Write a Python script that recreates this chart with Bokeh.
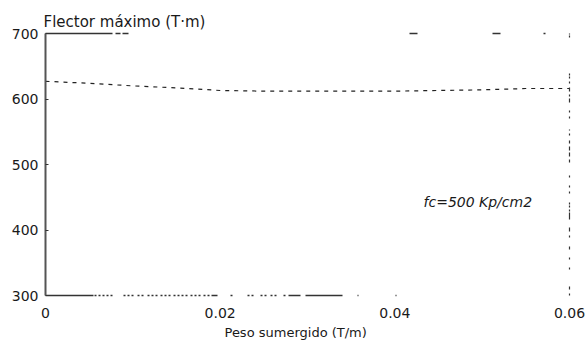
from bokeh.plotting import figure
from bokeh.models import LinearAxis, Label, FixedTicker, Range1d, Title
from bokeh.embed import file_html
from bokeh.resources import INLINE

# data
peso = [0, 0.005, 0.01, 0.015, 0.02, 0.025, 0.03, 0.035, 0.04, 0.045, 0.05, 0.055, 0.06]
flector = [627, 624, 620, 617, 613, 612, 612, 612, 612, 613, 614, 616, 616]
x_ticks = [0, 0.02, 0.04, 0.06]
x_tick_labels = {0: "0", 0.02: "0.02", 0.04: "0.04", 0.06: "0.06"}
y_ticks = [300, 400, 500, 600, 700]

FONT = "DejaVu Sans"
INK = "#1a1a1a"


def dash_from_segments(segs, total=600):
    """Style helper: turn (start, end) pixel runs into a dash pattern string."""
    out = []
    for i, (a, b) in enumerate(segs):
        out.append(b - a)
        nxt = segs[i + 1][0] if i + 1 < len(segs) else total
        out.append(nxt - b)
    return " ".join(str(v) for v in out)


# faded, broken frame lines of the scanned original (pixel runs, styling only)
bottom_runs = [(0, 48), (49, 51), (53, 55), (57, 59), (61, 63), (65, 67),
               (78, 80), (82, 84), (86, 88), (92, 94), (96, 98),
               (102, 104), (106, 108), (110, 112), (115, 117), (119, 121), (123, 125),
               (128, 130), (132, 134), (136, 138), (140, 142),
               (145, 147), (149, 151), (153, 155), (158, 160), (162, 164), (166, 172),
               (185, 187), (202, 204), (206, 208), (215, 217), (219, 221),
               (225, 227), (229, 231), (238, 240), (243, 255), (260, 297),
               (312, 313), (350, 351)]
top_runs = [(0, 67), (70, 75), (77, 83), (364, 372), (447, 455), (498, 500)]
right_runs = [(0, 2), (6, 9), (26, 28), (36, 38), (46, 49), (58, 60), (64, 68), (76, 83),
              (84, 86), (88, 90), (91, 93), (102, 104), (108, 110), (118, 120),
              (133, 136), (139, 143), (145, 149), (152, 155), (160, 162), (165, 166),
              (177, 179), (183, 185), (193, 197), (199, 201), (204, 208), (212, 214),
              (217, 219), (220, 222), (258, 260), (261, 263)]

p = figure(width=587, height=342, output_backend="svg", toolbar_location=None,
           x_range=Range1d(0, 0.06), y_range=Range1d(300, 700),
           min_border_left=45, min_border_right=18, min_border_top=33, min_border_bottom=46,
           x_axis_type=None, y_axis_type=None)
p.outline_line_color = None
p.grid.visible = False
p.background_fill_color = "white"
p.border_fill_color = "white"

# title (y axis label placed on top-left)
p.title.text = "Flector máximo (T·m)"
p.title.align = "left"
p.title.offset = -2
p.title.text_font = FONT
p.title.text_font_size = "15px"
p.title.text_font_style = "normal"
p.title.text_color = INK
p.title.standoff = 6

# bottom axis
xa = LinearAxis(ticker=FixedTicker(ticks=x_ticks))
xa.major_label_overrides = x_tick_labels
xa.major_tick_in = 0
xa.major_tick_out = 0
xa.minor_tick_in = 0
xa.minor_tick_out = 0
xa.axis_line_color = "#333333"
xa.axis_line_width = 1.5
xa.axis_line_dash = dash_from_segments(bottom_runs)
xa.major_label_text_font = FONT
xa.major_label_text_font_size = "14px"
xa.major_label_text_color = INK
xa.major_label_standoff = 12
p.add_layout(xa, "below")

# x axis title
p.add_layout(Title(text="Peso sumergido (T/m)", align="left", offset=179,
                   text_font=FONT, text_font_size="13px", text_font_style="normal",
                   text_color=INK, standoff=5), "below")

# left axis
ya = LinearAxis(ticker=FixedTicker(ticks=y_ticks))
ya.major_tick_in = 3
ya.major_tick_out = 0
ya.minor_tick_in = 0
ya.minor_tick_out = 0
ya.major_tick_line_color = "#333333"
ya.axis_line_color = "#555555"
ya.axis_line_width = 2
ya.major_label_text_font = FONT
ya.major_label_text_font_size = "14px"
ya.major_label_text_color = INK
ya.major_label_standoff = 7
p.add_layout(ya, "left")

# faded top frame line
ta = LinearAxis(ticker=FixedTicker(ticks=[]))
ta.major_tick_in = 0
ta.major_tick_out = 0
ta.minor_tick_in = 0
ta.minor_tick_out = 0
ta.major_label_text_font_size = "0px"
ta.axis_line_color = "#333333"
ta.axis_line_width = 1.5
ta.axis_line_dash = dash_from_segments(top_runs)
p.add_layout(ta, "above")

# faded right frame line
ra = LinearAxis(ticker=FixedTicker(ticks=[]))
ra.major_tick_in = 0
ra.major_tick_out = 0
ra.minor_tick_in = 0
ra.minor_tick_out = 0
ra.major_label_text_font_size = "0px"
ra.axis_line_color = "#333333"
ra.axis_line_width = 1.2
ra.axis_line_dash = dash_from_segments(right_runs, total=400)
p.add_layout(ra, "right")

# data curve
p.line(peso, flector, line_color="#222222", line_width=1.2, line_dash="4 5")

# annotation
p.add_layout(Label(x=0.0495, y=443, text="fc=500 Kp/cm2",
                   text_font=FONT, text_font_size="14px", text_font_style="italic",
                   text_color=INK, text_align="center", text_baseline="middle"))

open("out.html", "w").write(file_html(p, INLINE))
